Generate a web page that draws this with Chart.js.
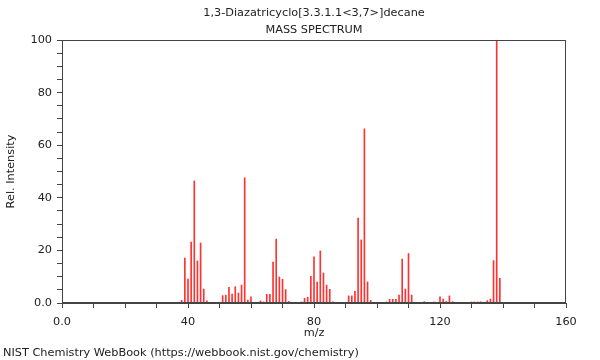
<!DOCTYPE html>
<html>
<head>
<meta charset="utf-8">
<script src="https://cdn.jsdelivr.net/npm/chart.js@4.4.1/dist/chart.umd.min.js"></script>
<style>
html,body{margin:0;padding:0;background:#fff;}
#wrap{width:600px;height:360px;position:relative;}
</style>
</head>
<body>
<div id="wrap"><canvas id="c" width="600" height="360"></canvas></div>
<script>
const titleLine1 = "1,3-Diazatricyclo[3.3.1.1<3,7>]decane";
const titleLine2 = "MASS SPECTRUM";
const xTitle = "m/z";
const yTitle = "Rel. Intensity";
const footer = "NIST Chemistry WebBook (https://webbook.nist.gov/chemistry)";

const mz = [38,39,40,41,42,43,44,45,46,
  50,51,52,53,54,55,56,57,58,59,60,
  63,64,65,66,67,68,69,70,71,72,
  76,77,78,79,80,81,82,83,84,85,86,
  91,92,93,94,95,96,97,98,
  103,104,105,106,107,108,109,110,111,
  115,117,118,
  120,121,122,123,124,
  130,131,132,133,
  135,136,137,138,139,140];
const intensity = [1,17.1,9.1,23.2,46.4,16,22.8,5.3,0.8,
  0.3,2.8,3,6,3.4,6.2,3.8,6.8,47.6,1.1,2.3,
  0.8,0.4,3.3,3.3,15.6,24.3,9.9,9,5.1,0.6,
  0.4,1.8,2.2,10.1,17.6,8,19.8,11.4,6.8,5.2,0.4,
  2.7,2.7,4.4,32.3,24,66.2,8,1,
  0.4,1.4,1.4,1.4,3,16.7,5.3,18.8,3,
  0.5,0.2,0.4,
  2.3,1.5,0.6,2.7,0.5,
  0.4,0.4,0.4,0.4,
  0.9,1.5,16.1,100,9.4,0.3];

const xMin = 0, xMax = 160, xStep = 10, xLabelEvery = 40;
const yMin = 0, yMax = 100, yStep = 5, yLabelEvery = 20;

const FONT = "'DejaVu Sans', sans-serif";
const textColor = "#222";
const axisColor = "#444";

const textPlugin = {
  id: 'texts',
  afterDraw(chart) {
    const ctx = chart.ctx;
    const a = chart.chartArea;
    const cx = (a.left + a.right) / 2;
    ctx.save();
    ctx.strokeStyle = axisColor;
    ctx.lineWidth = 1;
    ctx.strokeRect(Math.round(a.left) + 0.5, Math.round(a.top) + 0.5,
                   Math.round(a.right - a.left) - 1, Math.round(a.bottom - a.top) - 1);
    ctx.fillStyle = textColor;
    ctx.font = "11.3px " + FONT;
    ctx.textAlign = 'center';
    ctx.textBaseline = 'middle';
    ctx.fillText(titleLine1, cx, 13);
    ctx.fillText(titleLine2, cx, 30);
    ctx.fillText(xTitle, cx, 333);
    ctx.textAlign = 'left';
    ctx.fillText(footer, 3, 353);
    ctx.translate(11, (a.top + a.bottom) / 2);
    ctx.rotate(-Math.PI / 2);
    ctx.textAlign = 'center';
    ctx.fillText(yTitle, 0, 0);
    ctx.restore();
  }
};

new Chart(document.getElementById('c'), {
  type: 'bar',
  data: {
    datasets: [{
      data: mz.map((m, i) => ({x: m, y: intensity[i]})),
      backgroundColor: 'rgb(255,50,50)',
      borderWidth: 0,
      barThickness: 1
    }]
  },
  options: {
    responsive: false,
    animation: false,
    devicePixelRatio: 1,
    layout: {padding: {left: 0, right: 34, top: 40, bottom: 0}},
    plugins: {legend: {display: false}, tooltip: {enabled: false}, title: {display: false}},
    scales: {
      x: {
        type: 'linear',
        min: xMin, max: xMax,
        offset: false,
        afterFit(s) { s.height = 57; },
        grid: {offset: false, drawOnChartArea: false, tickLength: 5, color: axisColor},
        border: {color: axisColor},
        ticks: {
          stepSize: xStep,
          autoSkip: false,
          maxRotation: 0,
          padding: 7,
          color: textColor,
          font: {family: FONT, size: 11.3},
          callback: v => v === 0 ? '0.0' : (v % xLabelEvery === 0 ? String(v) : '')
        }
      },
      y: {
        min: yMin, max: yMax,
        afterFit(s) { s.width = 62; },
        grid: {drawOnChartArea: false, tickLength: 5, color: axisColor},
        border: {color: axisColor},
        ticks: {
          stepSize: yStep,
          autoSkip: false,
          padding: 5,
          color: textColor,
          font: {family: FONT, size: 11.3},
          callback: v => v === 0 ? '0.0' : (v % yLabelEvery === 0 ? String(v) : '')
        }
      }
    }
  },
  plugins: [textPlugin]
});
</script>
</body>
</html>
